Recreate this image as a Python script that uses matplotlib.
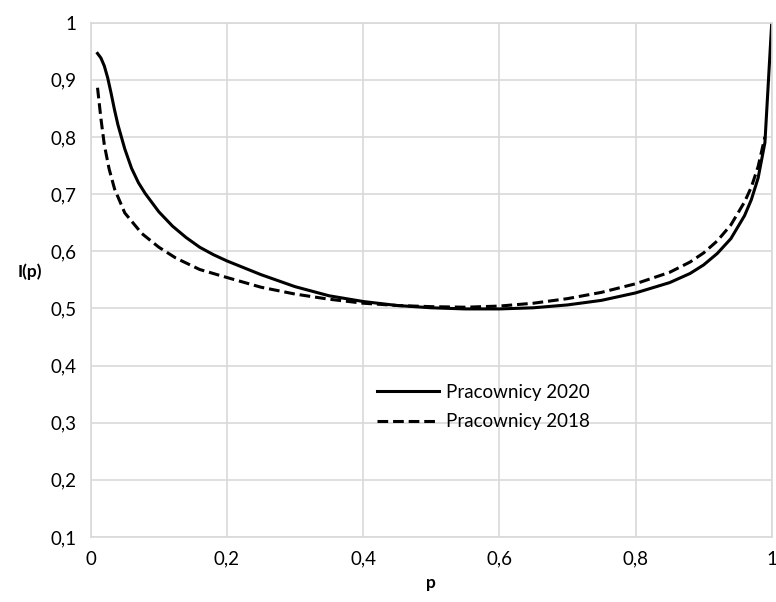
import numpy as np
import matplotlib
matplotlib.use('Agg')
import matplotlib.pyplot as plt
from matplotlib.ticker import FuncFormatter, MultipleLocator

plt.rcParams['font.family'] = ['Lato', 'DejaVu Sans']

# values
p_2020 = [0.01, 0.015, 0.02, 0.025, 0.03, 0.035, 0.04, 0.05, 0.06, 0.07, 0.08,
          0.10, 0.12, 0.14, 0.16, 0.18, 0.20, 0.25, 0.30, 0.35, 0.40, 0.45,
          0.50, 0.55, 0.60, 0.65, 0.70, 0.75, 0.80, 0.85, 0.88, 0.90, 0.92,
          0.94, 0.96, 0.97, 0.98, 0.99, 1.00]
i_2020 = [0.946, 0.938, 0.924, 0.903, 0.876, 0.847, 0.821, 0.779, 0.745, 0.720,
          0.701, 0.669, 0.644, 0.624, 0.607, 0.594, 0.583, 0.559, 0.538, 0.522,
          0.512, 0.505, 0.501, 0.499, 0.499, 0.501, 0.506, 0.514, 0.527, 0.545,
          0.561, 0.576, 0.596, 0.622, 0.662, 0.690, 0.728, 0.790, 1.000]

p_2018 = [0.01, 0.015, 0.02, 0.027, 0.035, 0.05, 0.075, 0.10, 0.125, 0.16,
          0.20, 0.25, 0.30, 0.35, 0.40, 0.45, 0.50, 0.55, 0.60, 0.65, 0.70,
          0.75, 0.80, 0.85, 0.88, 0.90, 0.92, 0.94, 0.96, 0.97, 0.98, 0.99]
i_2018 = [0.886, 0.832, 0.786, 0.744, 0.709, 0.667, 0.631, 0.607, 0.588, 0.568,
          0.554, 0.537, 0.525, 0.516, 0.509, 0.505, 0.503, 0.502, 0.504, 0.509,
          0.517, 0.528, 0.543, 0.563, 0.581, 0.597, 0.618, 0.646, 0.686, 0.712,
          0.748, 0.800]

labels = ['Pracownicy 2020', 'Pracownicy 2018']

def comma(v, pos):
    s = '%g' % round(v, 2)
    return s.replace('.', ',')

fig = plt.figure(figsize=(7.76, 6.02), dpi=100)
ax = fig.add_axes([0.1169, 0.108, 0.8776, 0.8545])

ax.plot(p_2020, i_2020, color='black', linewidth=2.2, label=labels[0])
ax.plot(p_2018, i_2018, color='black', linewidth=2.2, dashes=(3.5, 1.6),
        label=labels[1])

ax.set_xlim(0, 1)
ax.set_ylim(0.1, 1)
ax.xaxis.set_major_locator(MultipleLocator(0.2))
ax.yaxis.set_major_locator(MultipleLocator(0.1))
ax.xaxis.set_major_formatter(FuncFormatter(comma))
ax.yaxis.set_major_formatter(FuncFormatter(comma))
ax.grid(True, color='#d9d9d9', linewidth=1.2)
ax.set_axisbelow(True)
for s in ax.spines.values():
    s.set_color('#d9d9d9')
    s.set_linewidth(1.2)
ax.tick_params(length=0, labelsize=13.5, pad=10, colors='black')

ax.set_xlabel('p', fontsize=12.5, fontweight='bold', labelpad=5)
ax.set_ylabel('I(p)', fontsize=12.5, fontweight='bold', rotation=0)
ax.yaxis.set_label_coords(-0.09, 0.5)

ax.legend(loc='upper left', bbox_to_anchor=(377 / 776, 1 - 384 / 602),
          bbox_transform=fig.transFigure, frameon=False, fontsize=13.5,
          handlelength=3.3, handletextpad=0.4, labelspacing=0.65,
          borderpad=0, borderaxespad=0)

fig.savefig('out.png', dpi=100)
